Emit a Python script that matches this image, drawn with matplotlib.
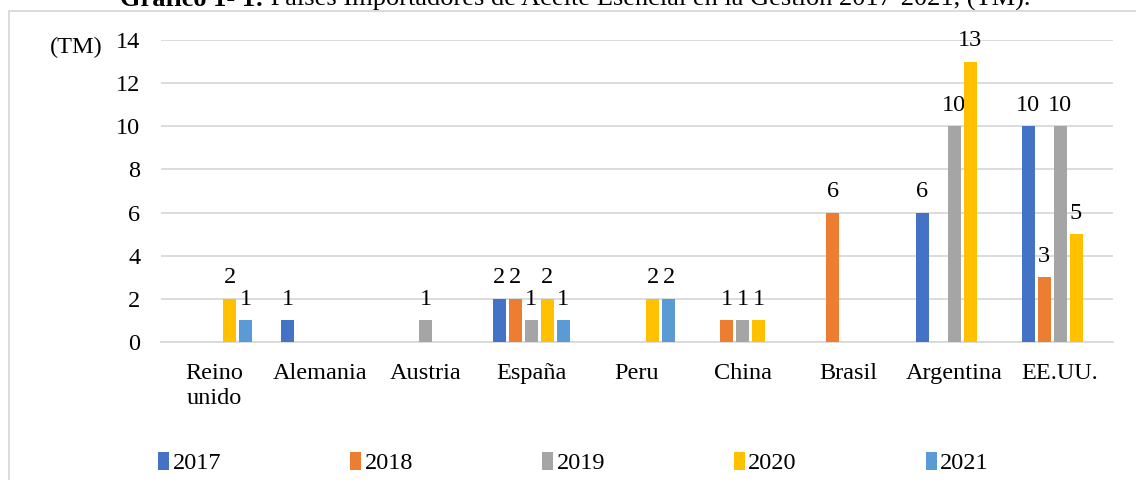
import matplotlib
matplotlib.use("Agg")
import matplotlib.pyplot as plt
import numpy as np
from matplotlib.patches import Rectangle

plt.rcParams['font.family'] = ['Liberation Serif', 'DejaVu Serif']

categories = ["Reino\nunido", "Alemania", "Austria", "España", "Peru", "China", "Brasil", "Argentina", "EE.UU."]
years = ["2017", "2018", "2019", "2020", "2021"]
v2017 = [0, 1, 0, 2, 0, 0, 0, 6, 10]
v2018 = [0, 0, 0, 2, 0, 1, 6, 0, 3]
v2019 = [0, 0, 1, 1, 0, 1, 0, 10, 10]
v2020 = [2, 0, 0, 2, 2, 1, 0, 13, 5]
v2021 = [1, 0, 0, 1, 2, 0, 0, 0, 0]
series = [v2017, v2018, v2019, v2020, v2021]
colors = ["#4472C4", "#ED7D31", "#A5A5A5", "#FFC000", "#5B9BD5"]

fig = plt.figure(figsize=(11.36, 4.8), dpi=100)
ax = fig.add_axes([161/1136, 1-342/480, (1113-161)/1136, (342-40)/480])

x = np.arange(len(categories))
step = 0.151
width = 0.123
fs = 17.5

for i, (vals, col, yr) in enumerate(zip(series, colors, years)):
    vals = np.array(vals, dtype=float)
    mask = vals > 0
    pos = x + (i - 2) * step
    ax.bar(pos[mask], vals[mask], width=width, color=col, label=yr, zorder=3)
    for p, v in zip(pos[mask], vals[mask]):
        ax.annotate(f"{int(v)}", (p, v), xytext=(0, 7.5), textcoords="offset points",
                    ha="center", va="bottom", fontsize=fs, color="black")

ax.set_xlim(-0.5, len(categories) - 0.5)
ax.set_ylim(0, 14)
ax.set_yticks(np.arange(0, 15, 2))
ax.yaxis.grid(True, color="#d9d9d9", linewidth=1.3, zorder=0)
ax.set_axisbelow(True)
for s in ["top", "right", "left"]:
    ax.spines[s].set_visible(False)
ax.spines["bottom"].set_color("#d9d9d9")
ax.spines["bottom"].set_linewidth(1.3)
ax.set_xticks(x)
ax.set_xticklabels(categories, fontsize=fs, linespacing=1.25)
ax.tick_params(axis="both", length=0, labelsize=fs)
ax.tick_params(axis="x", pad=15)
ax.tick_params(axis="y", pad=15)

fig.text(103/1136, 1-47/480, "(TM)", fontsize=fs, ha="right", va="center")

# legend
handles, labels = ax.get_legend_handles_labels()
leg = fig.legend(handles, labels, loc="center left", bbox_to_anchor=(158/1136, 1-463/480),
                 ncol=5, frameon=False, fontsize=fs, handlelength=0.45, handleheight=0.75,
                 handletextpad=0.15, columnspacing=5.3, borderaxespad=0, borderpad=0)

# chart border
fig.patches.append(Rectangle((9/1136, -0.2), 1.2, 1.2 - 11/480, transform=fig.transFigure,
                             fill=False, edgecolor="#d9d9d9", linewidth=1.3, zorder=0))

# title (cut off at the top, as in the source)
t1 = fig.text(120/1136, 1-6/480, "Gráfico 1- 1:", fontsize=19, fontweight="bold",
              ha="left", va="baseline")
fig.canvas.draw()
ax.annotate(" Países Importadores de Aceite Esencial en la Gestión 2017-2021, (TM).",
            xy=(1, 0), xycoords=t1, va="bottom", ha="left", fontsize=19,
            annotation_clip=False)

fig.savefig("out.png", dpi=100)
